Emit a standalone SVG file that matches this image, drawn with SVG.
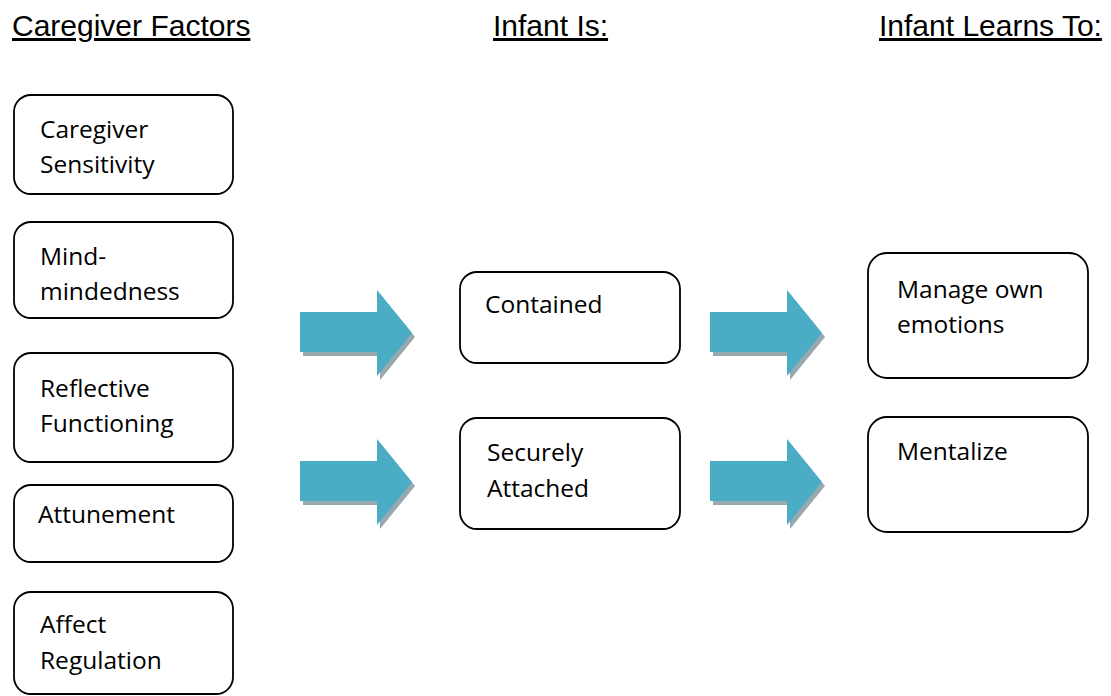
<svg xmlns="http://www.w3.org/2000/svg" width="1111" height="696" viewBox="0 0 1111 696">
  <style>
    .hdr { font-family: "Liberation Sans", Arial, sans-serif; font-size: 30px; fill: #000; text-decoration: underline; }
    .box { fill: #fff; stroke: #000; stroke-width: 1.8; }
    .lbl { font-family: "Open Sans", "Noto Sans", sans-serif; font-size: 24.5px; fill: #000; }
    .arrow { fill: #4bacc6; }
    .shadow { fill: #97a9ae; }
  </style>
  <defs>
    <!-- block arrow: body 0..77 x 22..62, head to tip at x=112 -->
    <g id="blockArrow">
      <polygon class="shadow" transform="translate(3,4)" points="0,22 77,22 77,0 112,43 77,86 77,62 0,62"/>
      <polygon class="arrow" points="0,22 77,22 77,0 112,43 77,86 77,62 0,62"/>
    </g>
  </defs>

  <rect width="1111" height="696" fill="#fff"/>

  <!-- column headings -->
  <g id="headings">
    <text class="hdr" x="12" y="36">Caregiver Factors</text>
    <text class="hdr" x="493" y="36">Infant Is:</text>
    <text class="hdr" x="879" y="36">Infant Learns To:</text>
  </g>

  <!-- caregiver factors -->
  <g id="caregiver-sensitivity">
    <rect class="box" x="14" y="95" width="219" height="99" rx="17"/>
    <text class="lbl" x="40" y="138">Caregiver</text>
    <text class="lbl" x="40" y="173">Sensitivity</text>
  </g>
  <g id="mind-mindedness">
    <rect class="box" x="14" y="222" width="219" height="96" rx="17"/>
    <text class="lbl" x="40" y="265">Mind-</text>
    <text class="lbl" x="40" y="300">mindedness</text>
  </g>
  <g id="reflective-functioning">
    <rect class="box" x="14" y="353" width="219" height="109" rx="17"/>
    <text class="lbl" x="40" y="397">Reflective</text>
    <text class="lbl" x="40" y="432">Functioning</text>
  </g>
  <g id="attunement">
    <rect class="box" x="14" y="485" width="219" height="77" rx="17"/>
    <text class="lbl" x="38" y="523">Attunement</text>
  </g>
  <g id="affect-regulation">
    <rect class="box" x="14" y="592" width="219" height="102" rx="17"/>
    <text class="lbl" x="40" y="633">Affect</text>
    <text class="lbl" x="40" y="669">Regulation</text>
  </g>

  <!-- infant states -->
  <g id="contained">
    <rect class="box" x="460" y="272" width="220" height="91" rx="17"/>
    <text class="lbl" x="485" y="313">Contained</text>
  </g>
  <g id="securely-attached">
    <rect class="box" x="460" y="418" width="220" height="111" rx="17"/>
    <text class="lbl" x="487" y="461">Securely</text>
    <text class="lbl" x="487" y="497">Attached</text>
  </g>

  <!-- infant outcomes -->
  <g id="manage-own-emotions">
    <rect class="box" x="868" y="253" width="220" height="125" rx="19"/>
    <text class="lbl" x="897" y="298">Manage own</text>
    <text class="lbl" x="897" y="333">emotions</text>
  </g>
  <g id="mentalize">
    <rect class="box" x="868" y="417" width="220" height="115" rx="19"/>
    <text class="lbl" x="897" y="460">Mentalize</text>
  </g>

  <!-- connectors -->
  <g id="connectors">
    <use href="#blockArrow" x="300" y="290"/>
    <use href="#blockArrow" x="300" y="439"/>
    <use href="#blockArrow" x="710" y="290"/>
    <use href="#blockArrow" x="710" y="439"/>
  </g>
</svg>
